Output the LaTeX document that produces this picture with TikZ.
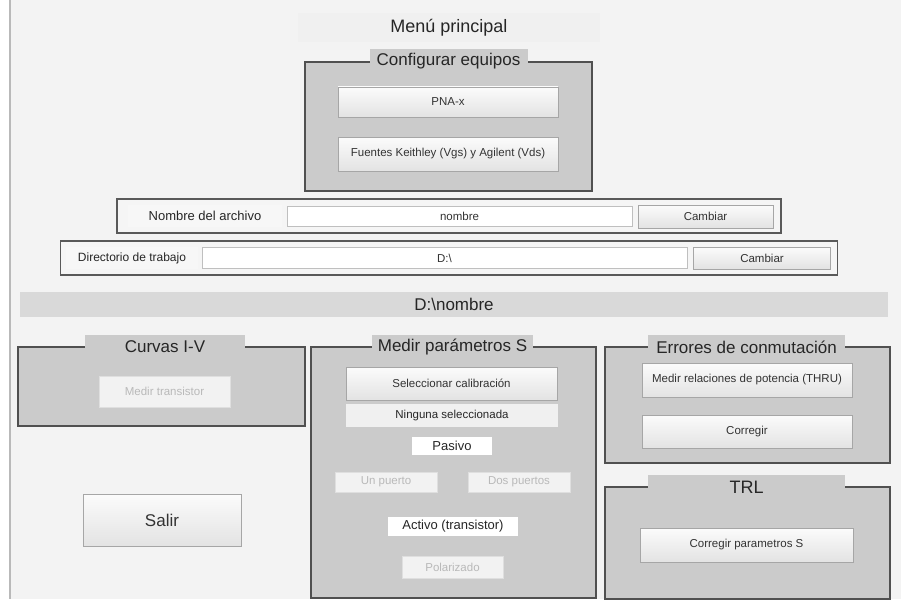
\documentclass[tikz,border=0pt]{standalone}
\usepackage{fontspec}
\setmainfont{Liberation Sans}
\usepackage{tikz}
\usetikzlibrary{positioning}

\newcommand{\guifont}[1]{\fontsize{#1}{#1}\selectfont}
\definecolor{bgcol}{HTML}{F3F3F3}
\definecolor{pancol}{HTML}{CBCBCB}
\definecolor{framecol}{HTML}{505050}

\begin{document}
\begin{tikzpicture}[
  x=1pt, y=-1pt,
  panel/.style={draw=framecol, line width=1.1pt, fill=pancol, inner sep=0pt},
  tab/.style={fill=pancol, inner sep=0pt, minimum height=24pt, font=\guifont{17}, text=black!85},
  btn/.style={draw=gray!70, top color=gray!3, bottom color=gray!22, inner sep=0pt, font=\guifont{11.5}, text=black!80},
  dis/.style={draw=gray!25, fill=gray!10, inner sep=0pt, font=\guifont{11.5}, text=gray!55},
  lbl/.style={fill=white, inner sep=0pt, font=\guifont{13}, text=black!85},
  field/.style={draw=gray!50, fill=white, inner sep=0pt, font=\guifont{11.5}, text=black!80}
]

% window background
\useasboundingbox (0,0) rectangle (901,599);
\fill[white] (0,0) rectangle (901,599);
\fill[bgcol] (10,0) rectangle (901,599);
\draw[gray!55, line width=1.5pt] (10,0) -- (10,599);

% title
\node[fill=gray!12, minimum width=302pt, minimum height=29pt, inner sep=0pt,
      font=\guifont{18}, text=black!85] (menu) at (449,27.5) {Menú principal};

% Configurar equipos
\node[panel, minimum width=287pt, minimum height=129pt] (cfg) at (448.5,126.5) {};
\node[tab, minimum width=158pt] (cfgtab) at (cfg.north) {Configurar equipos};
\node[btn, minimum width=220pt, minimum height=30pt] (pna) at (448,102) {PNA-x};
\node[btn, minimum width=220pt, minimum height=34pt] (fuentes) at (448,154) {Fuentes Keithley (Vgs) y Agilent (Vds)};

% file name
\node[draw=gray!70!black, line width=1.5pt, fill=gray!8, minimum width=664pt, minimum height=34pt, inner sep=0pt] (nomframe) at (449,216) {};
\node[lbl, fill=gray!6, minimum width=154pt, minimum height=22pt] (nomlbl) at (205,216) {Nombre del archivo};
\node[field, minimum width=345pt, minimum height=20pt] (nomfield) at (459.5,216) {nombre};
\node[btn, minimum width=135pt, minimum height=23pt] (cambiarnom) at (705.5,216.5) {Cambiar};

% working directory
\node[draw=gray!70!black, line width=1.5pt, fill=gray!8, minimum width=777pt, minimum height=34pt, inner sep=0pt] (dirframe) at (449,258) {};
\node[lbl, fill=gray!6, minimum width=132pt, minimum height=22pt, font=\guifont{12}] (dirlbl) at (132,258) {Directorio de trabajo};
\node[field, minimum width=485pt, minimum height=21pt] (dirfield) at (444.5,258) {D:\textbackslash};
\node[btn, minimum width=137pt, minimum height=22pt] (cambiardir) at (762,258) {Cambiar};

% current path
\node[fill=gray!30, minimum width=868pt, minimum height=25pt, inner sep=0pt,
      font=\guifont{17}, text=black!85] (ruta) at (454,304.5) {D:\textbackslash nombre};

% Curvas I-V
\node[panel, minimum width=287pt, minimum height=79pt] (iv) at (161.5,386.5) {};
\node[tab, minimum width=160pt] (ivtab) at (165,347) {Curvas I-V};
\node[dis, minimum width=131pt, minimum height=31pt] (medirtr) at (164.5,391.5) {Medir transistor};

\node[btn, minimum width=158pt, minimum height=52pt, font=\guifont{17}] (salir) at (162,520) {Salir};

% Medir parametros S
\node[panel, minimum width=285pt, minimum height=251pt] (spar) at (453.5,472.5) {};
\node[tab, minimum width=161pt] (spartab) at (452.5,347) {Medir parámetros S};
\node[btn, minimum width=211pt, minimum height=33pt] (selcal) at (451.5,383.5) {Seleccionar calibración};
\node[lbl, fill=gray!12, minimum width=212pt, minimum height=23pt, font=\guifont{11.5}] (ninguna) at (452,415.5) {Ninguna seleccionada};
\node[lbl, minimum width=80pt, minimum height=18pt] (pasivo) at (452,446) {Pasivo};
\node[dis, minimum width=102pt, minimum height=20pt] (unpuerto) at (386,482) {Un puerto};
\node[dis, minimum width=102pt, minimum height=20pt] (dospuertos) at (519,482) {Dos puertos};
\node[lbl, minimum width=130pt, minimum height=19pt] (activo) at (453,526.5) {Activo (transistor)};
\node[dis, minimum width=101pt, minimum height=22pt] (polarizado) at (452.5,567) {Polarizado};

% Errores de conmutacion
\node[panel, minimum width=285pt, minimum height=116pt] (err) at (747.5,405) {};
\node[tab, minimum width=197pt] (errtab) at (746.5,347) {Errores de conmutación};
\node[btn, minimum width=210pt, minimum height=34pt] (relpot) at (747,380) {Medir relaciones de potencia (THRU)};
\node[btn, minimum width=210pt, minimum height=33pt] (corregir) at (747,431.5) {Corregir};

% TRL
\node[panel, minimum width=285pt, minimum height=112pt] (trl) at (747.5,543) {};
\node[tab, minimum width=197pt, font=\guifont{18}] (trltab) at (746.5,487) {TRL};
\node[btn, minimum width=213pt, minimum height=34pt] (corrs) at (746.5,545) {Corregir parametros S};

\end{tikzpicture}
\end{document}
